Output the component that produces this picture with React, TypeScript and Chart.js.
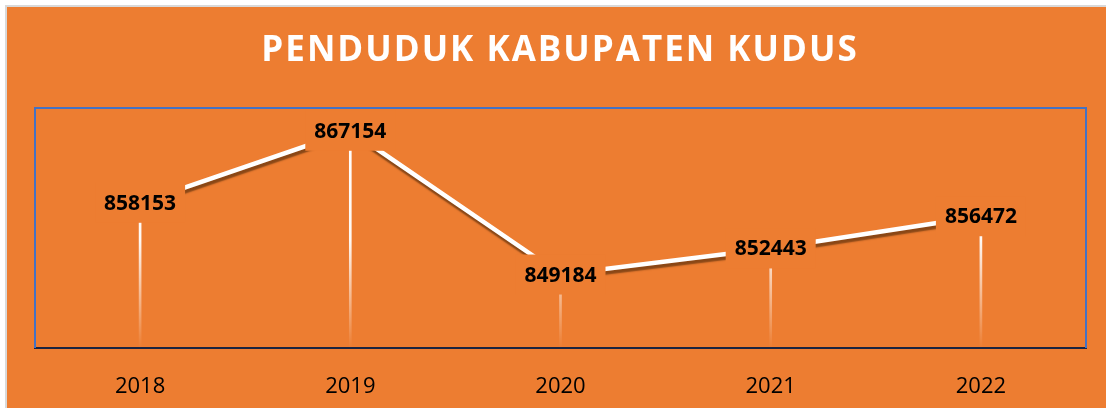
import React, { useEffect, useRef } from 'react';
import { Chart, registerables } from 'chart.js';

Chart.register(...registerables);

const TITLE = 'PENDUDUK KABUPATEN KUDUS';
const YEARS = ['2018', '2019', '2020', '2021', '2022'];
const POPULATION = [858153, 867154, 849184, 852443, 856472];
const Y_MIN = 840000;
const Y_MAX = 870000;

const ORANGE = '#ED7D31';
const BLUE = '#4472C4';

const decorPlugin = {
  id: 'decor',
  beforeDraw(chart: any) {
    const { ctx, width, height } = chart;
    ctx.save();
    ctx.fillStyle = '#ffffff';
    ctx.fillRect(0, 0, width, height);
    ctx.fillStyle = '#D9D9D9';
    ctx.fillRect(5, 5, width - 5, height - 5);
    ctx.fillStyle = ORANGE;
    ctx.fillRect(7, 7, width - 7, height - 7);
    ctx.font = 'bold 35px "Open Sans"';
    try { (ctx as any).letterSpacing = '2px'; } catch (e) {}
    ctx.fillStyle = '#ffffff';
    ctx.textAlign = 'center';
    ctx.textBaseline = 'middle';
    ctx.fillText(TITLE, 560, 51);
    ctx.restore();
  },
  beforeDatasetsDraw(chart: any) {
    const { ctx, chartArea: a } = chart;
    ctx.save();
    ctx.strokeStyle = BLUE;
    ctx.lineWidth = 2;
    ctx.beginPath();
    ctx.moveTo(a.left, a.bottom);
    ctx.lineTo(a.left, a.top);
    ctx.lineTo(a.right, a.top);
    ctx.lineTo(a.right, a.bottom);
    ctx.stroke();
    ctx.restore();
  },
  beforeDatasetDraw(chart: any, args: any) {
    if (args.meta.type === 'line') {
      const ctx = chart.ctx;
      ctx.save();
      ctx.shadowColor = 'rgba(70,35,5,0.6)';
      ctx.shadowOffsetX = 1;
      ctx.shadowOffsetY = 3.5;
      ctx.shadowBlur = 1.5;
    }
  },
  afterDatasetDraw(chart: any, args: any) {
    if (args.meta.type === 'line') {
      chart.ctx.restore();
    }
  },
  afterDatasetsDraw(chart: any) {
    const { ctx } = chart;
    const meta = chart.getDatasetMeta(0);
    ctx.save();
    ctx.font = 'bold 21px "Open Sans"';
    ctx.textAlign = 'center';
    ctx.textBaseline = 'middle';
    meta.data.forEach((pt: any, i: number) => {
      ctx.fillStyle = ORANGE;
      ctx.fillRect(pt.x - 45, pt.y - 20, 90, 40);
      ctx.fillStyle = '#000000';
      ctx.fillText(String(POPULATION[i]), pt.x, pt.y + 1);
    });
    ctx.restore();
  },
};

export default function App() {
  const canvasRef = useRef<HTMLCanvasElement | null>(null);

  useEffect(() => {
    if (!canvasRef.current) return;
    const chart = new Chart(canvasRef.current, {
      type: 'line',
      data: {
        labels: YEARS,
        datasets: [
          {
            type: 'line',
            label: 'Penduduk',
            data: POPULATION,
            borderColor: '#ffffff',
            borderWidth: 4.5,
            pointRadius: 0,
            tension: 0,
            fill: false,
          },
          {
            type: 'bar',
            label: 'drop',
            data: POPULATION,
            barThickness: 2,
            borderWidth: 0,
            backgroundColor: (c: any) => {
              const a = c.chart.chartArea;
              if (!a) return 'rgba(255,255,255,0.8)';
              const g = c.chart.ctx.createLinearGradient(0, a.top, 0, a.bottom);
              g.addColorStop(0, 'rgba(255,255,255,1)');
              g.addColorStop(0.55, 'rgba(255,255,255,0.95)');
              g.addColorStop(1, 'rgba(255,255,255,0)');
              return g;
            },
          },
        ],
      } as any,
      options: {
        responsive: false,
        animation: false,
        devicePixelRatio: 1,
        layout: { padding: { left: 35, right: 20, top: 108, bottom: 0 } },
        plugins: {
          legend: { display: false },
          tooltip: { enabled: false },
          title: { display: false },
        },
        scales: {
          x: {
            offset: true,
            grid: { display: false },
            border: { display: true, color: '#1B2440', width: 2 },
            ticks: {
              color: '#000000',
              font: { family: '"Open Sans"', size: 22 },
              padding: 18,
            },
            afterFit: (s: any) => { s.height = 60; },
          },
          y: { display: false, min: Y_MIN, max: Y_MAX },
        },
      } as any,
      plugins: [decorPlugin],
    });
    return () => chart.destroy();
  }, []);

  return (
    <div style={{ position: 'fixed', left: 0, top: 0, width: 1106, height: 408 }}>
      <canvas ref={canvasRef} width={1106} height={408} style={{ display: 'block' }} />
    </div>
  );
}
